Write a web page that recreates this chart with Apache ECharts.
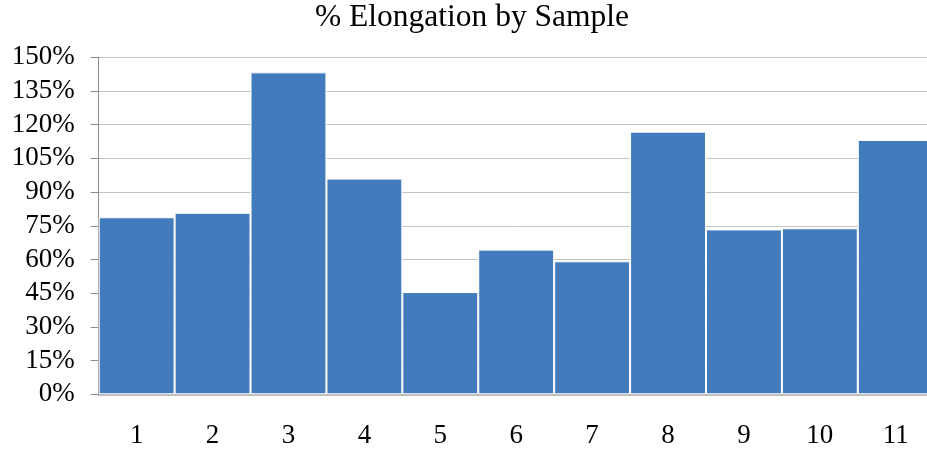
<!DOCTYPE html>
<html>
<head>
<meta charset="utf-8">
<script src="https://cdn.jsdelivr.net/npm/echarts@6/dist/echarts.min.js"></script>
<style>html,body{margin:0;padding:0;background:#fff}#c{width:927px;height:450px}</style>
</head>
<body>
<div id="c"></div>
<script>
const titleText = '% Elongation by Sample';
const categories = ['1','2','3','4','5','6','7','8','9','10','11'];
const elongation = [78.8, 80.8, 143.3, 96.0, 45.5, 64.4, 59.2, 116.9, 73.4, 73.9, 113.2];

const chart = echarts.init(document.getElementById('c'));
const font = 'Liberation Serif, Times New Roman, serif';
chart.setOption({
  animation: false,
  backgroundColor: '#ffffff',
  title: {
    text: titleText,
    left: 315, top: 2, padding: 0,
    textStyle: { fontFamily: font, fontSize: 31.5, fontWeight: 'normal', color: '#000' }
  },
  grid: { left: 98.7, width: 835, top: 57.3, bottom: 55.7, containLabel: false, outerBoundsMode: 'none' },
  xAxis: {
    type: 'category',
    data: categories,
    axisLine: { lineStyle: { color: '#a6a6a6', width: 1.5 } },
    axisTick: { show: false },
    axisLabel: { fontFamily: font, fontSize: 27, color: '#000', margin: 28 },
    splitLine: { show: false }
  },
  yAxis: {
    type: 'value',
    min: 0, max: 150, interval: 15,
    axisLine: { show: true, lineStyle: { color: '#8c8c8c', width: 1 } },
    axisTick: { show: true, length: 8, lineStyle: { color: '#8c8c8c' } },
    axisLabel: { fontFamily: font, fontSize: 27, color: '#000', margin: 24, formatter: '{value}%' },
    splitLine: { show: true, lineStyle: { color: '#c4c4c4', width: 1 } }
  },
  series: [{
    type: 'bar',
    data: elongation,
    barCategoryGap: '0%',
    itemStyle: { color: '#417bbc', borderColor: '#ffffff', borderWidth: 1 }
  }]
});
</script>
</body>
</html>
